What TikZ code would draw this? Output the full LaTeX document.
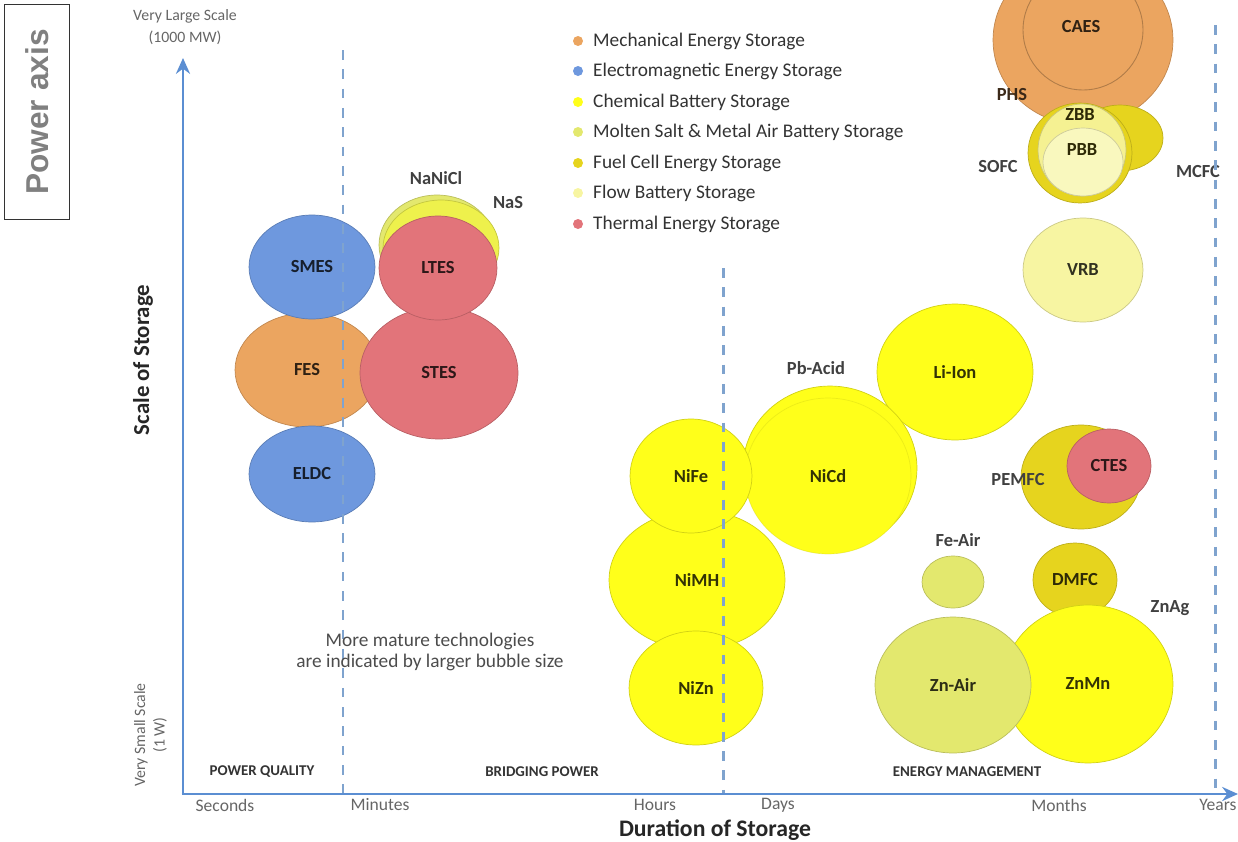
\documentclass[tikz,border=0pt]{standalone}
\usepackage{fontspec}
\setmainfont{Carlito}
\newfontfamily\arialfont{Liberation Sans}
\usetikzlibrary{shapes.geometric,arrows.meta}
\definecolor{mech}{HTML}{EBA560}
\definecolor{elec}{HTML}{6E98DE}
\definecolor{chem}{HTML}{FFFF1A}
\definecolor{molt}{HTML}{E3E86E}
\definecolor{fuel}{HTML}{E6D41E}
\definecolor{flow}{HTML}{F7F5A2}
\definecolor{therm}{HTML}{E2747A}
\definecolor{axisblue}{HTML}{5B8ED2}
\definecolor{dashblue}{HTML}{7FA3CE}
\definecolor{txtgray}{HTML}{404040}
\newcommand\fsz[1]{\fontsize{#1}{#1}\selectfont}

\begin{document}
\begin{tikzpicture}[x=0.02cm,y=-0.02cm,
  bub/.style={ellipse,inner sep=0pt,fill=#1,draw=#1!82!black,line width=0.4pt,text=#1!20!black,font=\fsz{10.5}\bfseries},
  rr/.style args={#1/#2}{minimum width=#1*0.04cm,minimum height=#2*0.04cm},
  tag/.style={text=txtgray,font=\fsz{10.5}\bfseries},
  leg/.style={anchor=west,text=black!80,font=\fsz{11}},
  tick/.style={text=black!60,font=\fsz{10}},
  zone/.style={text=black!80,font=\fsz{8.5}\bfseries},
  sep/.style={dashblue,line width=1.7pt,dash pattern=on 5.5pt off 5.5pt},
  ax/.style={axisblue,line width=1.6pt}]
  \useasboundingbox (0,0) rectangle (1238,842);
  \clip (0,0) rectangle (1238,842);
  \node[draw=black!80,line width=0.6pt,minimum width=65*0.02cm,minimum height=215*0.02cm] (pbox) at (37,112) {};
  \node[rotate=90,text=black!50,font=\arialfont\fsz{18}\bfseries] (ptitle) at (pbox.center) {Power axis};
  \node[bub=mech,rr=90/85] (phs) at (1083,40) {};
  \node[ellipse,inner sep=0pt,draw=mech!75!black,line width=0.5pt,rr=60/60] (caes) at (1083,30) {};
  \node[text=mech!20!black,font=\fsz{10.5}\bfseries] (caestxt) at (1081,27) {CAES};
  \node[bub=fuel,rr=43/33] (mcfc) at (1120,138) {};
  \node[bub=fuel,rr=52/50] (sofc) at (1080,153) {};
  \node[bub=flow!88!fuel,rr=44/46] (zbb) at (1082,150) {};
  \node[text=fuel!20!black,font=\fsz{10.5}\bfseries] (zbbtxt) at (1080,115) {ZBB};
  \node[bub=flow!70!white,rr=40/34] (pbb) at (1083,162) {};
  \node[text=fuel!20!black,font=\fsz{10.5}\bfseries] (pbbtxt) at (1082,150) {PBB};
  \node[bub=flow,rr=60/52] (vrb) at (1083,270) {VRB};
  \node[bub=mech,rr=72/57] (fes) at (307,370) {FES};
  \node[bub=elec,rr=63/52] (smes) at (312,267) {SMES};
  \node[bub=elec,rr=63/48] (eldc) at (312,474) {ELDC};
  \node[bub=molt,rr=58/50] (nanicl) at (437,245) {};
  \node[bub=molt!60!chem,rr=58/48] (nas) at (441,248) {};
  \node[bub=therm,rr=79/66] (stes) at (439,373) {STES};
  \node[bub=therm,rr=59/52] (ltes) at (438,268) {LTES};
  \node[bub=chem,rr=78/68] (lion) at (955,372) {Li-Ion};
  \node[bub=chem,rr=87/82] (pbacid) at (830,468) {};
  \node[bub=chem,rr=83/78,draw opacity=0.4] (nicd) at (828,476) {NiCd};
  \node[bub=chem,rr=88/70] (nimh) at (697,580) {NiMH};
  \node[bub=chem,rr=67/57] (nizn) at (696,688) {NiZn};
  \node[bub=chem,rr=61/57] (nife) at (691,476) {NiFe};
  \node[bub=molt,rr=31/26] (feair) at (953,582) {};
  \node[bub=fuel,rr=42/37] (dmfc) at (1075,580) {DMFC};
  \node[bub=chem,rr=85/79] (znmn) at (1088,684) {ZnMn};
  \node[bub=molt,rr=78/68] (znair) at (953,685) {Zn-Air};
  \node[bub=fuel,rr=60/52] (pemfc) at (1081,477) {};
  \node[bub=therm,rr=42/37] (ctes) at (1109,466) {CTES};
  \node[tag] (lnanicl) at (436,178) {NaNiCl};
  \node[tag] (lnas) at (508,203) {NaS};
  \node[tag] (lpbacid) at (816,368) {Pb-Acid};
  \node[tag] (lfeair) at (958,540) {Fe-Air};
  \node[tag] (lpemfc) at (1018,480) {PEMFC};
  \node[tag] (lznag) at (1170,608) {ZnAg};
  \node[tag,text=mech!25!black] (lphs) at (1012,95) {PHS};
  \node[tag] (lsofc) at (998,167) {SOFC};
  \node[tag] (lmcfc) at (1198,172) {MCFC};
  \coordinate (s1a) at (343,50);
  \coordinate (s1b) at (343,793);
  \coordinate (s2a) at (723,268);
  \coordinate (s2b) at (723,793);
  \coordinate (s3a) at (1215,25);
  \coordinate (s3b) at (1215,793);
  \draw[sep] (s1a) -- (s1b);
  \draw[sep] (s2a) -- (s2b);
  \draw[sep] (s3a) -- (s3b);
  \coordinate (o) at (183,794);
  \coordinate (ytop) at (183,58);
  \coordinate (xend) at (1238,794);
  \draw[ax,-{Stealth[length=9pt,width=8pt]}] (o) -- (ytop);
  \draw[ax,-{Stealth[length=9pt,width=8pt]}] ([xshift=-0.8pt]o) -- (xend);
  \node[tick,font=\fsz{9}] (vls) at (185,16) {Very Large Scale};
  \node[tick,font=\fsz{9}] (vlsw) at (185,38) {(1000 MW)};
  \node[tick,font=\fsz{9},rotate=90] (vss) at (141,735) {Very Small Scale};
  \node[tick,font=\fsz{9},rotate=90] (vssw) at (160,735) {(1 W)};
  \node[rotate=90,text=black!85,font=\fsz{13}\bfseries] (ylab) at (143,360) {Scale of Storage};
  \node[text=black!85,font=\fsz{13.5}\bfseries] (xlab) at (715,830) {Duration of Storage};
  \node[tick] (tsec) at (225,805) {Seconds};
  \node[tick] (tmin) at (380,805) {Minutes};
  \node[tick] (thr) at (655,805) {Hours};
  \node[tick] (tday) at (778,805) {Days};
  \node[tick] (tmon) at (1059,805) {Months};
  \node[tick] (tyr) at (1218,805) {Years};
  \node[zone] (zpq) at (262,772) {POWER QUALITY};
  \node[zone] (zbp) at (542,772) {BRIDGING POWER};
  \node[zone] (zem) at (967,772) {ENERGY MANAGEMENT};
  \node[text=black!70,font=\fsz{11},align=center] (note) at (430,652) {More mature technologies\\[1pt]are indicated by larger bubble size};
  \foreach \c/\t/\y in {mech/Mechanical Energy Storage/41,elec/Electromagnetic Energy Storage/71,chem/Chemical Battery Storage/102,molt/Molten Salt \& Metal Air Battery Storage/132,fuel/Fuel Cell Energy Storage/163,flow/Flow Battery Storage/193,therm/Thermal Energy Storage/224}{
    \fill[\c] (578,\y) circle (5);
    \node[leg] at (587,\y) {\t};
  }
\end{tikzpicture}
\end{document}
